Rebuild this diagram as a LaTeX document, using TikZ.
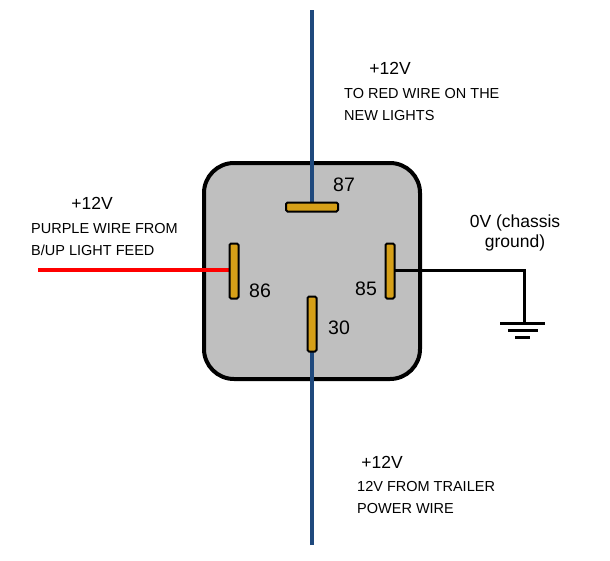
\documentclass[tikz,border=0pt]{standalone}
\usepackage{fontspec}
\setmainfont{Liberation Sans}
\begin{document}
\begin{tikzpicture}[x=1pt,y=-1pt,
  pin/.style={draw=black,line width=2pt,fill=yellow!60!orange!80!brown,rounded corners=1.5pt},
  big/.style={font=\fontsize{17.5}{20}\selectfont,inner sep=0pt},
  small/.style={font=\fontsize{14.5}{22}\selectfont,inner sep=0pt,align=left},
  num/.style={font=\fontsize{19.5}{22}\selectfont,inner sep=0pt}]
\useasboundingbox (0,0) rectangle (610,560);
\definecolor{wireblue}{RGB}{31,73,125}
\definecolor{pinc}{RGB}{214,160,24}
\coordinate (top) at (312,10);
\coordinate (bot) at (312,545);
\coordinate (redend) at (38,270);
\coordinate (gnd) at (524,323);
\node[draw=black,line width=4pt,fill=black!25,rounded corners=30pt,minimum width=216pt,minimum height=216pt,inner sep=0pt] (relay) at (312,271) {};
\draw[wireblue,line width=3.5pt] (top) -- (312,207);
\draw[wireblue,line width=3.5pt] (bot) -- (312,351);
\draw[red,line width=3.5pt] (redend) -- (234,270);
\draw[black,line width=3pt] (390,270) -| (gnd);
\draw[black,line width=3pt] (500,323) -- (545,323) (508,330) -- (538,330) (515,337) -- (530,337);
\node[pin,fill=pinc,minimum width=52pt,minimum height=9pt,inner sep=0pt] (p87) at (312,207) {};
\node[pin,fill=pinc,minimum width=9pt,minimum height=55pt,inner sep=0pt] (p86) at (234,271) {};
\node[pin,fill=pinc,minimum width=9pt,minimum height=55pt,inner sep=0pt] (p85) at (390,271) {};
\node[pin,fill=pinc,minimum width=9pt,minimum height=55pt,inner sep=0pt] (p30) at (312,324) {};
\node[num] (n87) at (344,185) {87};
\node[num] (n86) at (260,291) {86};
\node[num] (n85) at (366,289) {85};
\node[num] (n30) at (339,328) {30};
\node[big] (v1) at (390,68) {+12V};
\node[small,anchor=north west] (t1) at (344,88) {TO RED WIRE ON THE\\NEW LIGHTS};
\node[big] (v2) at (92,203) {+12V};
\node[small,anchor=north west] (t2) at (31,223) {PURPLE WIRE FROM\\B/UP LIGHT FEED};
\node[big,align=center] (v3) at (515,233) {0V (chassis\\ground)};
\node[big] (v4) at (382,462) {+12V};
\node[small,anchor=north west] (t4) at (357,481) {12V FROM TRAILER\\POWER WIRE};
\end{tikzpicture}
\end{document}
